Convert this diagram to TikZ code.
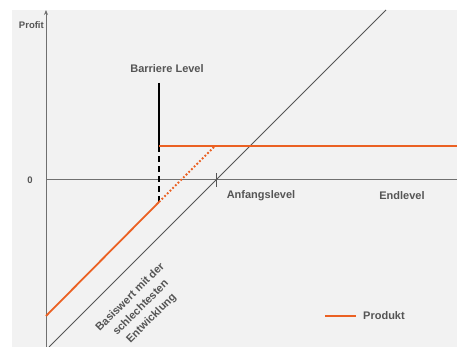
\documentclass[tikz,border=0pt]{standalone}
\usepackage{fontspec}
\setmainfont{Liberation Sans}
\usetikzlibrary{arrows.meta}
\definecolor{orangeline}{RGB}{235,97,35}
\definecolor{bggrey}{RGB}{242,242,242}
\definecolor{axisgrey}{RGB}{112,112,112}
\definecolor{textgrey}{RGB}{85,85,85}
\begin{document}
\begin{tikzpicture}[x=1pt,y=1pt,
  lbl/.style={font=\bfseries\fontsize{11}{13.5}\selectfont,text=textgrey,inner sep=0pt},
  smalllbl/.style={font=\bfseries\fontsize{9.5}{11}\selectfont,text=textgrey,inner sep=0pt},
  produkt/.style={orangeline,line width=1.8pt},
  axis/.style={axisgrey,line width=1pt}]
\useasboundingbox (0,0) rectangle (457,347);
\fill[bggrey] (12,0) rectangle (457,337);
% axes
\coordinate (yb) at (46,0);
\coordinate (yt) at (46,337);
\coordinate (xl) at (46,167);
\coordinate (xr) at (457,167);
\draw[axis,-{Stealth[length=5pt,width=4pt]}] (yb) -- (yt);
\draw[axis] (xl) -- (xr);
\node[smalllbl,anchor=east] (profit) at (44,322) {Profit};
\node[smalllbl] (null) at (30,167) {0};
% basiswert
\coordinate (bw1) at (49,0);
\coordinate (bw2) at (386,337);
\draw[textgrey,line width=0.8pt] (bw1) -- (bw2);
\coordinate (t1) at (216,160);
\coordinate (t2) at (216,174);
\draw[textgrey,line width=1pt] (t1) -- (t2);
\node[lbl] (anfang) at (261,151) {Anfangslevel};
\node[lbl] (end) at (402,151) {Endlevel};
\node[lbl,rotate=45,align=center,font=\bfseries\fontsize{11}{15}\selectfont] (basis) at (141,39) {Basiswert mit der\\schlechtesten\\Entwicklung};
% barriere
\node[lbl] (barr) at (167,278) {Barriere Level};
\coordinate (b1) at (159,264);
\coordinate (b2) at (159,201);
\coordinate (b3) at (159,145);
\draw[black,line width=1.5pt] (b1) -- (b2);
\draw[black,line width=1.5pt,dash pattern=on 6pt off 4pt] (b2) -- (b3);
% produkt
\coordinate (p0) at (46,31);
\coordinate (p1) at (215,201);
\coordinate (p2) at (457,201);
\draw[produkt] (b2) -- (p2);
\draw[produkt] (p0) -- (b3);
\draw[orangeline,line width=1.8pt,dash pattern=on 1.8pt off 2pt] (b3) -- (p1);
% legende
\coordinate (l1) at (325,31);
\coordinate (l2) at (356,31);
\draw[produkt] (l1) -- (l2);
\node[lbl,anchor=west] (prod) at (363,31) {Produkt};
\end{tikzpicture}
\end{document}
